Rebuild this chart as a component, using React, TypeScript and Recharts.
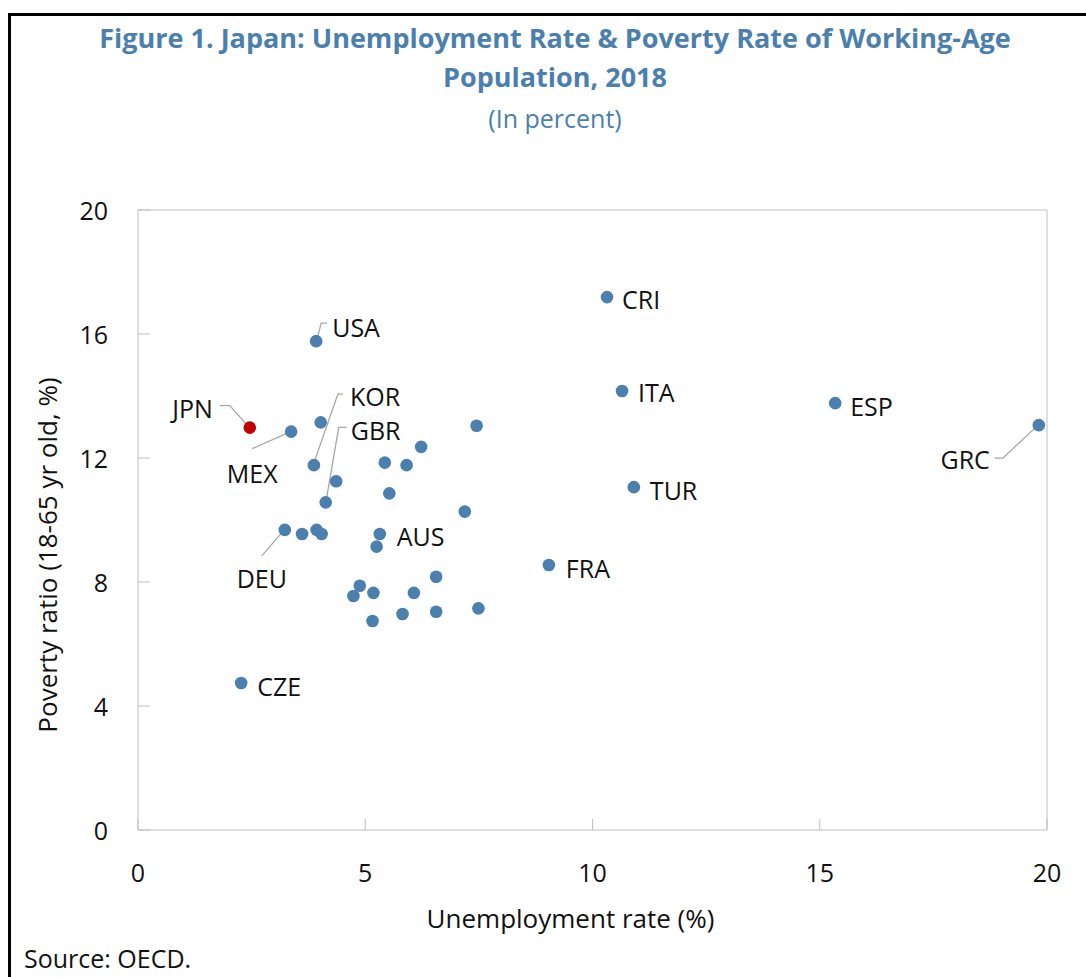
import React from 'react';
import { ScatterChart, Scatter, XAxis, YAxis, ReferenceLine } from 'recharts';

// ---- Data ----
const countries = ['CZE','JPN','MEX','DEU','','','','USA','','KOR','GBR','','','','','','','AUS','','','','','','','','','','','','FRA','CRI','ITA','TUR','ESP','GRC'];
const unemployment = [2.27,2.46,3.37,3.23,3.61,3.93,4.04,3.92,4.02,3.87,4.13,4.36,4.74,4.88,5.18,5.16,5.25,5.32,5.43,5.53,5.82,5.91,6.07,6.23,6.56,6.56,7.19,7.45,7.49,9.04,10.32,10.65,10.91,15.34,19.82];
const poverty = [4.74,12.98,12.85,9.68,9.55,9.68,9.55,15.77,13.15,11.77,10.57,11.25,7.55,7.88,7.65,6.74,9.14,9.55,11.85,10.86,6.97,11.77,7.65,12.36,8.17,7.04,10.27,13.04,7.15,8.55,17.19,14.16,11.06,13.77,13.06];
const xTicks = [0, 5, 10, 15, 20];
const yTicks = [0, 4, 8, 12, 16, 20];
const titleLine1 = 'Figure 1. Japan: Unemployment Rate & Poverty Rate of Working-Age';
const titleLine2 = 'Population, 2018';
const subtitle = '(In percent)';
const xLabel = 'Unemployment rate (%)';
const yLabel = 'Poverty ratio (18-65 yr old, %)';
const source = 'Source: OECD.';

const points = countries.map((name, i) => ({ name, x: unemployment[i], y: poverty[i] }));

// ---- Styles ----
const FONT = '"Open Sans", "DejaVu Sans", sans-serif';
const BLUE = '#4a7fae';
const RED = '#c00000';
const AXIS = '#bfbfbf';
const LEADER = '#a6a6a6';

type Placement = { dx: number; dy: number; anchor: 'start' | 'middle' | 'end'; leader?: number[][] };
const labelPlacement: Record<string, Placement> = {
  USA: { dx: 16, dy: -14, anchor: 'start', leader: [[2, -6], [5, -18], [11, -18]] },
  JPN: { dx: -37, dy: -20, anchor: 'end', leader: [[-30, -22], [-20, -22], [-4, -4]] },
  MEX: { dx: -39, dy: 41, anchor: 'middle', leader: [[-39, 17], [-5, 2]] },
  KOR: { dx: 36, dy: -69, anchor: 'start', leader: [[29, -71], [24, -71], [1, -5]] },
  GBR: { dx: 25, dy: -72, anchor: 'start', leader: [[21, -75], [13, -75], [1, -5]] },
  DEU: { dx: -23, dy: 48, anchor: 'middle', leader: [[-23, 26], [-4, 4]] },
  GRC: { dx: -49, dy: 34, anchor: 'end', leader: [[-44, 33], [-36, 33], [-4, 3]] },
  CZE: { dx: 16, dy: 3, anchor: 'start' },
  CRI: { dx: 15, dy: 2, anchor: 'start' },
  ITA: { dx: 16, dy: 1, anchor: 'start' },
  ESP: { dx: 15, dy: 3, anchor: 'start' },
  TUR: { dx: 16, dy: 3, anchor: 'start' },
  FRA: { dx: 17, dy: 3, anchor: 'start' },
  AUS: { dx: 17, dy: 2, anchor: 'start' },
};

const PointShape = (props: any) => {
  const { cx, cy, payload } = props;
  if (cx == null || cy == null) return <g />;
  const name: string = payload?.name || '';
  const pl = labelPlacement[name];
  const color = name === 'JPN' ? RED : BLUE;
  return (
    <g>
      {pl && pl.leader && (
        <polyline
          points={pl.leader.map(([a, b]) => `${cx + a},${cy + b}`).join(' ')}
          fill="none"
          stroke={LEADER}
          strokeWidth={1.3}
        />
      )}
      <circle cx={cx} cy={cy} r={6.3} fill={color} />
      {pl && (
        <text
          x={cx + pl.dx}
          y={cy + pl.dy}
          textAnchor={pl.anchor}
          dominantBaseline="central"
          fontFamily={FONT}
          fontSize={25}
          fill="#111"
        >
          {name}
        </text>
      )}
    </g>
  );
};

const YTick = (props: any) => {
  const { x, y, payload } = props;
  return (
    <g>
      <line x1={x} y1={y} x2={x + 12} y2={y} stroke={AXIS} strokeWidth={1} />
      <text x={x - 30} y={y} textAnchor="end" dominantBaseline="central" fontFamily={FONT} fontSize={25} fill="#111">
        {payload.value}
      </text>
    </g>
  );
};

const XTick = (props: any) => {
  const { x, y, payload } = props;
  return (
    <g>
      <line x1={x} y1={y} x2={x} y2={y - 11} stroke={AXIS} strokeWidth={1} />
      <text x={x} y={y + 42} textAnchor="middle" dominantBaseline="central" fontFamily={FONT} fontSize={25} fill="#111">
        {payload.value}
      </text>
    </g>
  );
};

const XLabel = (props: any) => {
  const vb = props.viewBox || { x: 138, y: 830, width: 909, height: 60 };
  return (
    <text x={vb.x + vb.width / 2 - 22} y={vb.y + 88} textAnchor="middle" dominantBaseline="central" fontFamily={FONT} fontSize={26} fill="#111">
      {xLabel}
    </text>
  );
};

const YLabel = (props: any) => {
  const vb = props.viewBox || { x: 0, y: 210, width: 138, height: 620 };
  const cx = vb.x + 47;
  const cy = vb.y + vb.height / 2 + 35;
  return (
    <text x={cx} y={cy} transform={`rotate(-90, ${cx}, ${cy})`} textAnchor="middle" dominantBaseline="central" fontFamily={FONT} fontSize={26} fill="#111">
      {yLabel}
    </text>
  );
};

export default function App() {
  return (
    <div style={{ position: 'absolute', left: 0, top: 0, width: 1086, height: 977, overflow: 'hidden', background: '#fff' }}>
      <div style={{ position: 'absolute', left: 8, top: 13, width: 1200, height: 1100, borderTop: '3px solid #000', borderLeft: '3px solid #000' }} />
      <div style={{ position: 'absolute', left: 0, top: 18, width: 1110, textAlign: 'center', fontFamily: FONT, fontWeight: 700, fontSize: 27, lineHeight: '39px', color: BLUE }}>
        {titleLine1}
        <br />
        {titleLine2}
      </div>
      <div style={{ position: 'absolute', left: 0, top: 102, width: 1110, textAlign: 'center', fontFamily: FONT, fontSize: 25, lineHeight: '32px', color: BLUE }}>
        {subtitle}
      </div>
      <div style={{ position: 'absolute', left: 24, top: 945, fontFamily: FONT, fontSize: 25, lineHeight: '27px', color: '#111' }}>
        {source}
      </div>
      <div style={{ position: 'absolute', left: 0, top: 0 }}>
        <ScatterChart width={1086} height={977} margin={{ top: 210, right: 39, bottom: 87, left: 0 }}>
          <XAxis
            type="number"
            dataKey="x"
            domain={[0, 20]}
            ticks={xTicks}
            interval={0}
            height={60}
            tickSize={0}
            tickMargin={0}
            tick={<XTick />}
            tickLine={false}
            axisLine={{ stroke: AXIS }}
            label={<XLabel />}
            allowDataOverflow
          />
          <YAxis
            type="number"
            dataKey="y"
            domain={[0, 20]}
            ticks={yTicks}
            interval={0}
            width={138}
            tickSize={0}
            tickMargin={0}
            tick={<YTick />}
            tickLine={false}
            axisLine={{ stroke: AXIS }}
            label={<YLabel />}
            allowDataOverflow
          />
          <ReferenceLine y={20} stroke={AXIS} />
          <ReferenceLine x={20} stroke={AXIS} />
          <Scatter data={points} shape={<PointShape />} isAnimationActive={false} />
        </ScatterChart>
      </div>
    </div>
  );
}
